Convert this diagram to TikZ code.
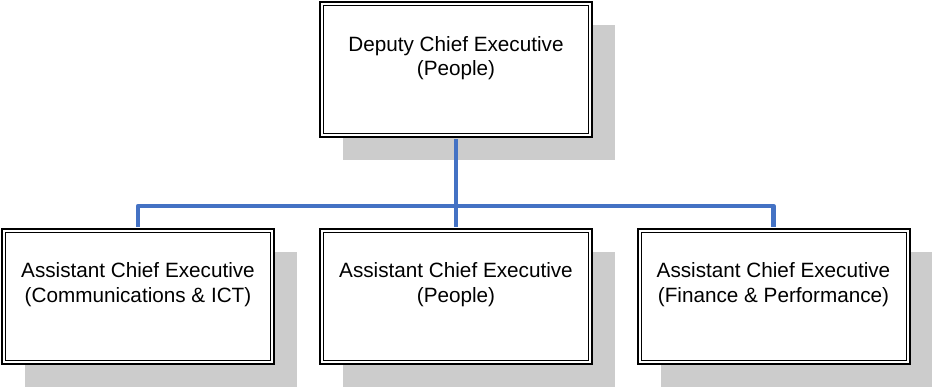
\documentclass[tikz,border=0pt]{standalone}
\usepackage{fontspec}
\setmainfont{Liberation Sans}
\usetikzlibrary{shadows,calc}
\definecolor{shadowgray}{RGB}{204,204,204}
\definecolor{connblue}{RGB}{68,114,196}
\tikzset{
  orgbox/.style={draw=black, line width=2pt, fill=white, minimum width=272pt, minimum height=135pt, inner sep=0pt,
    general shadow={shadow xshift=23pt, shadow yshift=-23pt, fill=shadowgray}},
  innerline/.style={draw=black, line width=1pt},
  boxtext/.style={anchor=north, inner sep=0pt, align=center, font=\fontsize{20.7pt}{24.5pt}\selectfont},
  conn/.style={draw=connblue, line width=4.5pt, line join=round}
}
\begin{document}
\begin{tikzpicture}[x=1pt,y=-1pt]
\useasboundingbox (0,0) rectangle (932,389);
\node[orgbox] (top) at (456,69.5) {};
\node[orgbox] (left) at (138,296) {};
\node[orgbox] (mid) at (456,296) {};
\node[orgbox] (right) at (773.5,296) {};
\foreach \b in {top,left,mid,right}{
  \draw[innerline] ($(\b.north west)+(4.5,4.5)$) rectangle ($(\b.south east)+(-4.5,-4.5)$);
}
\node[boxtext] (toptext) at ($(top.north)+(0,35)$) {Deputy Chief Executive\\(People)};
\node[boxtext] (lefttext) at ($(left.north)+(0,35)$) {Assistant Chief Executive\\(Communications \& ICT)};
\node[boxtext] (midtext) at ($(mid.north)+(0,35)$) {Assistant Chief Executive\\(People)};
\node[boxtext] (righttext) at ($(right.north)+(0,35)$) {Assistant Chief Executive\\(Finance \& Performance)};
\coordinate (bus) at (456,206);
\draw[conn] ($(top.south)+(0,1)$) -- ($(mid.north)+(0,-1)$);
\draw[conn] ($(left.north)+(0,-1)$) -- (left.north |- bus) -- (right.north |- bus) -- ($(right.north)+(0,-1)$);
\end{tikzpicture}
\end{document}
